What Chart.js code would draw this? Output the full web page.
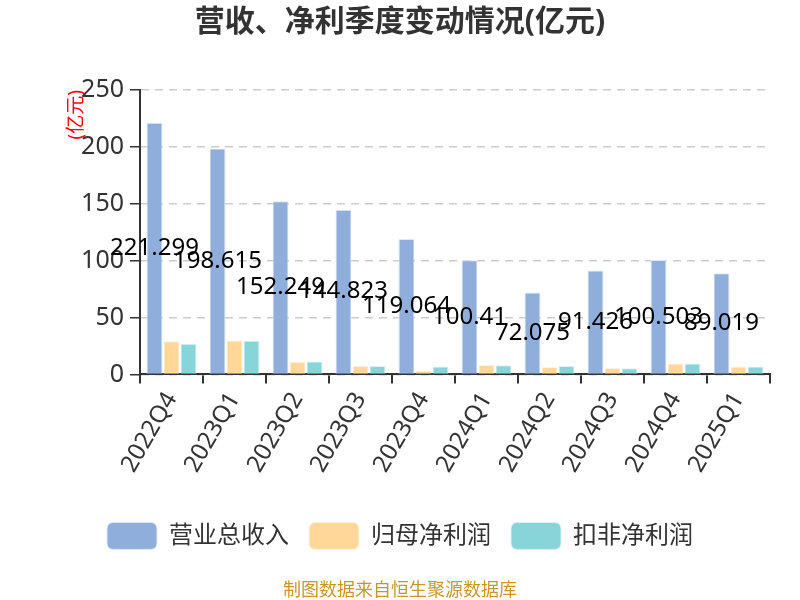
<!DOCTYPE html>
<html>
<head>
<meta charset="utf-8">
<script src="https://cdn.jsdelivr.net/npm/chart.js@4"></script>
<style>
  body { margin: 0; background: #fff; }
  #wrap { width: 800px; height: 600px; }
</style>
</head>
<body>
<div id="wrap"><canvas id="chart"></canvas></div>
<script>
const quarters = ["2022Q4","2023Q1","2023Q2","2023Q3","2023Q4","2024Q1","2024Q2","2024Q3","2024Q4","2025Q1"];
const revenue = [221.299,198.615,152.249,144.823,119.064,100.41,72.075,91.426,100.503,89.019];
const netProfit = [29.2,29.8,11.1,7.3,3.2,8.2,6.4,5.6,9.6,7];
const deductedProfit = [26.9,29.5,11.4,7.3,7,8,7.3,5.3,9.6,7];
const yTicks = [0,50,100,150,200,250];

const FONT = '"Noto Sans", "Noto Sans CJK SC", sans-serif';

// value labels for the revenue bars, drawn at the middle of each bar
const midLabels = {
    id: 'midLabels',
    afterDatasetsDraw(chart) {
        const ctx = chart.ctx;
        const meta = chart.getDatasetMeta(0);
        ctx.save();
        ctx.font = '24px ' + FONT;
        ctx.fillStyle = '#000';
        ctx.textAlign = 'center';
        ctx.textBaseline = 'middle';
        meta.data.forEach((bar, i) => {
            ctx.fillText(String(revenue[i]), bar.x, (bar.y + bar.base) / 2);
        });
        ctx.restore();
    }
};

new Chart(document.getElementById('chart'), {
    type: 'bar',
    data: {
        labels: quarters,
        datasets: [
            {label:'营业总收入', data:revenue, backgroundColor:'#8FAEDB', borderColor:'#dfe7f5', borderWidth:1},
            {label:'归母净利润', data:netProfit, backgroundColor:'#FFD899', borderColor:'#fff3df', borderWidth:1},
            {label:'扣非净利润', data:deductedProfit, backgroundColor:'#88D5D9', borderColor:'#dcf2f3', borderWidth:1}
        ]
    },
    options: {
        responsive: true,
        maintainAspectRatio: false,
        animation: false,
        categoryPercentage: 0.81,
        barPercentage: 0.94,
        layout: { padding: { left: 30, right: 30, top: 0, bottom: 0 } },
        plugins: {
            title: {
                display: true,
                text: '营收、净利季度变动情况(亿元)',
                color: '#333',
                font: { family: FONT, size: 30, weight: 'bold' },
                padding: { top: 4, bottom: 50 }
            },
            subtitle: {
                display: true,
                position: 'bottom',
                text: '制图数据来自恒生聚源数据库',
                color: '#C9962D',
                font: { family: FONT, size: 18 },
                padding: { top: 21, bottom: -2 }
            },
            legend: {
                position: 'bottom',
                labels: {
                    color: '#333',
                    font: { family: FONT, size: 24 },
                    boxWidth: 50,
                    boxHeight: 27,
                    padding: 20,
                    useBorderRadius: true,
                    borderRadius: 6
                }
            },
            tooltip: { enabled: false }
        },
        scales: {
            x: {
                offset: true,
                afterFit: axis => { axis.height = 128; },
                grid: { drawOnChartArea: false, offset: true, tickLength: 9, color: '#333', lineWidth: 2 },
                border: { color: '#333', width: 2 },
                ticks: { color: '#333', font: { family: FONT, size: 24 }, minRotation: 60, maxRotation: 60, padding: 4 }
            },
            y: {
                min: 0,
                max: 250,
                afterFit: axis => { axis.width = 110; },
                afterBuildTicks: axis => { axis.ticks = yTicks.map(v => ({ value: v })); },
                grid: { color: '#ccc', lineWidth: 1.5, tickLength: 10, tickColor: '#333', tickBorderDash: [] },
                border: { color: '#333', width: 2, dash: [8, 6] },
                ticks: { color: '#333', font: { family: FONT, size: 25 }, padding: 6 },
                title: {
                    display: true,
                    text: '(亿元)',
                    align: 'end',
                    color: '#f00',
                    font: { family: FONT, size: 19 },
                    padding: { top: 35, bottom: 0 }
                }
            }
        }
    },
    plugins: [midLabels]
});
</script>
</body>
</html>
